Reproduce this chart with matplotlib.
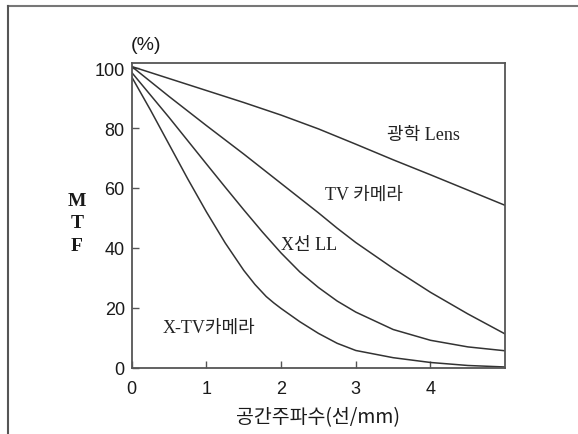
import matplotlib
matplotlib.use("Agg")
import matplotlib.pyplot as plt
from matplotlib.lines import Line2D

# MTF curves (spatial frequency in lines/mm, MTF in %)
lens_x = [0, 0.5, 1, 1.5, 2, 2.5, 3, 3.5, 4, 4.5, 5]
lens_y = [100.5, 96.5, 92.5, 88.5, 84.3, 79.7, 74.6, 69.4, 64.4, 59.3, 54.2]

tv_x = [0, 0.5, 1, 1.5, 2, 2.5, 2.75, 3, 3.5, 4, 4.5, 5]
tv_y = [100.5, 90.5, 80.8, 71.3, 61.5, 51.7, 46.6, 41.8, 33.2, 25.2, 18.0, 11.3]

ll_x = [0, 0.5, 1, 1.25, 1.5, 1.75, 2, 2.25, 2.5, 2.75, 3, 3.5, 4, 4.5, 5]
ll_y = [98.5, 83.5, 68.0, 60.3, 52.7, 45.3, 38.3, 32.0, 26.8, 22.3, 18.6, 12.8, 9.2, 7.0, 5.7]

xtv_x = [0, 0.25, 0.5, 0.75, 1, 1.25, 1.5, 1.65, 1.8, 1.9, 2, 2.25, 2.5, 2.75, 3, 3.5, 4, 4.5, 5]
xtv_y = [97.0, 86.0, 74.5, 63.0, 52.0, 41.7, 32.5, 27.8, 23.8, 21.7, 19.8, 15.4, 11.5, 8.2, 5.8, 3.4, 1.8, 0.8, 0.3]

x_ticks = [0, 1, 2, 3, 4]
y_ticks = [0, 20, 40, 60, 80, 100]

# curve labels: text, x, y
labels = [
    ("광학 Lens", 3.91, 78),
    ("TV 카메라", 3.11, 58),
    ("X선 LL", 2.38, 41.3),
    ("X-TV카메라", 1.03, 13.5),
]

line_col = "#333333"
serif_kr = ["Liberation Serif", "Noto Sans CJK KR"]

fig = plt.figure(figsize=(5.78, 4.35), dpi=100)
ax = fig.add_axes([0.228, 0.152, 0.646, 0.701])

for xs, ys in [(lens_x, lens_y), (tv_x, tv_y), (ll_x, ll_y), (xtv_x, xtv_y)]:
    ax.plot(xs, ys, color=line_col, lw=1.1)

for txt, tx, ty in labels:
    ax.text(tx, ty, txt, family=serif_kr, fontsize=13,
            color="#222222", ha="center", va="center")

ax.set_xlim(0, 5)
ax.set_ylim(0, 101.7)
ax.set_xticks(x_ticks)
ax.set_yticks(y_ticks)
ax.tick_params(direction="in", length=5, width=1, color="#555555")
ax.tick_params(axis="y", pad=5)
ax.tick_params(axis="x", pad=9)
for lab in ax.get_xticklabels() + ax.get_yticklabels():
    lab.set_family("Liberation Sans")
    lab.set_fontsize(13)
    lab.set_color("#1a1a1a")
for sp in ax.spines.values():
    sp.set_color("#555555")
    sp.set_linewidth(1.3)

ax.set_xlabel("공간주파수(선/mm)", family="Noto Sans CJK KR", fontsize=14,
              color="#1a1a1a", labelpad=6)

fig.text(145.6 / 578, 1 - 45 / 435, "(%)", family="Liberation Sans", fontsize=14,
         color="#1a1a1a", ha="center", va="center")
for ch, py in zip("MTF", [201.7, 224, 246.7]):
    fig.text(77 / 578, 1 - py / 435, ch, family="Liberation Serif", fontweight="bold",
             fontsize=14, color="#1a1a1a", ha="center", va="center")

# scanned page frame
fig.add_artist(Line2D([8 / 578, 1], [1 - 7 / 435, 1 - 7 / 435], color="#777777", lw=1.5))
fig.add_artist(Line2D([8 / 578, 8 / 578], [1 - 7 / 435, 0], color="#555555", lw=1.5))

fig.savefig("out.png", dpi=100)
